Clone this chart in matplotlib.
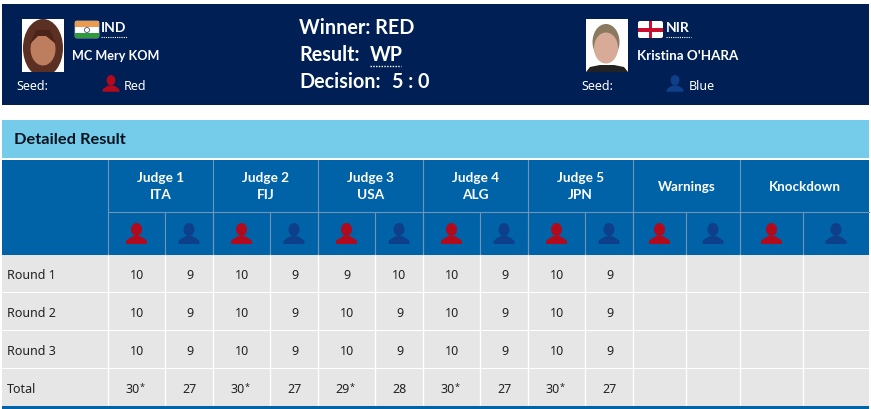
import matplotlib
matplotlib.use("Agg")
import matplotlib.pyplot as plt
from matplotlib.patches import Rectangle, Ellipse, FancyBboxPatch, Polygon

plt.rcParams['font.family'] = ['Noto Sans', 'DejaVu Sans']

# ---- data ----
red_name = "MC Mery KOM"; red_code = "IND"
blue_name = "Kristina O'HARA"; blue_code = "NIR"
judges = ["Judge 1\nITA", "Judge 2\nFIJ", "Judge 3\nUSA", "Judge 4\nALG", "Judge 5\nJPN"]
extras = ["Warnings", "Knockdown"]
rounds = ["Round 1", "Round 2", "Round 3", "Total"]
round1 = ["10", "9", "10", "9", "9", "10", "10", "9", "10", "9"]
round2 = ["10", "9", "10", "9", "10", "9", "10", "9", "10", "9"]
round3 = ["10", "9", "10", "9", "10", "9", "10", "9", "10", "9"]
totals = ["30*", "27", "30*", "27", "29*", "28", "30*", "27", "30*", "27"]

# ---- layout ----
NAVY = "#002055"; SKY = "#74cbea"; BLUE = "#0063a8"; GREY = "#e6e6e6"
ICON_RED = "#b00a1c"; ICON_BLUE = "#0e3f8a"; LINE = "#6f94b4"
main_edges = [108, 213, 318, 423, 528, 633, 740, 869]
sub_edges = [108, 165, 213, 270, 318, 375, 423, 480, 528, 585, 633, 686, 740, 803, 869]
row_edges = [255, 293, 331, 369, 407]
LEFT, RIGHT = 2, 869

fig = plt.figure(figsize=(8.71, 4.09), dpi=100, facecolor="white")
ax = fig.add_axes([0, 0, 1, 1])
ax.set_xlim(0, 871); ax.set_ylim(409, 0); ax.axis("off")


def rect(x0, y0, x1, y1, color, z=1):
    ax.add_patch(Rectangle((x0, y0), x1 - x0, y1 - y0, fc=color, ec="none", zorder=z))


def txt(x, y, s, size=9, color="white", ha="center", bold=False, **kw):
    if bold:
        kw.update(family="Lato", weight="bold")
    ax.text(x, y + 1.3, s, fontsize=size, color=color, ha=ha, va="center", zorder=6, **kw)


def person(cx, top, color, scale=1.0):
    ax.add_patch(Ellipse((cx, top + 6.5 * scale), 11 * scale, 13 * scale, fc=color, ec="none", zorder=5))
    w = 10.5 * scale
    pts = [(cx - w, top + 21 * scale), (cx - w, top + 18 * scale), (cx - w + 3 * scale, top + 15.5 * scale),
           (cx - 3 * scale, top + 13 * scale), (cx + 3 * scale, top + 13 * scale),
           (cx + w - 3 * scale, top + 15.5 * scale), (cx + w, top + 18 * scale), (cx + w, top + 21 * scale)]
    ax.add_patch(Polygon(pts, closed=True, fc=color, ec="none", zorder=5))


# top banner
rect(LEFT, 4, RIGHT, 105, NAVY)

# red boxer photo
rect(22, 19, 64, 72, "white", 2)
ax.add_patch(Ellipse((43, 48), 40, 58, fc="#5b2f22", ec="none", zorder=3))
rect(22, 72, 64, 80, NAVY, 3.5)
ax.add_patch(Ellipse((43, 49), 25, 33, fc="#bd7d5f", ec="none", zorder=4))
ax.add_patch(Polygon([(30, 44), (36, 30), (50, 30), (56, 44), (46, 36), (38, 36)], fc="#4a2419", ec="none", zorder=4.5))
# India flag
ax.add_patch(FancyBboxPatch((75, 21), 24, 17, boxstyle="round,pad=0,rounding_size=2", fc="white", ec="#bcd", lw=.5, zorder=3))
rect(75, 21, 99, 27, "#ee9a4d", 4); rect(75, 33, 99, 38, "#2f9a3c", 4)
ax.add_patch(Ellipse((87, 30), 5, 5, fc="none", ec="#3a4a88", lw=.6, zorder=5))
txt(101, 27, red_code, 10, ha="left", bold=True)
ax.plot([101, 127], [36.5, 36.5], color="white", lw=.8, ls=(0, (1, 1)), zorder=6)
txt(72, 54.5, red_name, 9.1, ha="left", bold=True)
txt(16, 85.5, "Seed:", 9, ha="left")
person(111, 75, ICON_RED, .8)
txt(124, 85.5, "Red", 9, ha="left")

# centre text
txt(299, 27, "Winner: RED", 14.2, ha="left", bold=True)
txt(299, 54, "Result:", 14.2, ha="left", bold=True)
txt(370, 54, "WP", 14.2, ha="left", bold=True)
ax.plot([370, 401], [65.5, 65.5], color="white", lw=1, ls=(0, (1, 1)), zorder=6)
txt(299, 81, "Decision:", 14.2, ha="left", bold=True)
txt(392, 81, "5 : 0", 14.2, ha="left", bold=True)

# blue boxer photo
rect(586, 19, 628, 72, "white", 2)
ax.add_patch(Ellipse((606, 42), 27, 36, fc="#8a7a60", ec="none", zorder=3))
ax.add_patch(Ellipse((606, 48), 24, 31, fc="#d8ab98", ec="none", zorder=4))
ax.add_patch(Polygon([(586, 72), (590, 67), (600, 65), (614, 65), (624, 67), (628, 72)], fc="#222222", ec="none", zorder=4.5))
# NIR flag
ax.add_patch(FancyBboxPatch((638, 21), 25, 17, boxstyle="round,pad=0,rounding_size=2", fc="white", ec="none", zorder=3))
rect(638, 27.5, 663, 31.5, "#c8102e", 4); rect(649, 21, 652, 38, "#c8102e", 4)
txt(666, 27, blue_code, 10, ha="left", bold=True)
ax.plot([666, 691], [36.5, 36.5], color="white", lw=.8, ls=(0, (1, 1)), zorder=6)
txt(637, 54.5, blue_name, 9.6, ha="left", bold=True)
txt(581, 85.5, "Seed:", 9, ha="left")
person(675, 75, ICON_BLUE, .8)
txt(689, 85.5, "Blue", 9, ha="left")

# Detailed result band
rect(LEFT, 120, RIGHT, 158, SKY)
txt(14, 138.5, "Detailed Result", 11.8, color="#06121e", ha="left", bold=True)

# table header
rect(LEFT, 160, RIGHT, 254.5, BLUE)
for x in main_edges[:-1]:
    ax.plot([x, x], [160, 254.5], color=LINE, lw=.8, zorder=2)
ax.plot([108, RIGHT], [212, 212], color=LINE, lw=.8, zorder=2)
for x in sub_edges[1:-1]:
    ax.plot([x, x], [212, 254.5], color=LINE, lw=.8, zorder=2)

for i, label in enumerate(judges):
    txt((main_edges[i] + main_edges[i + 1]) / 2, 185, label, 9.8, bold=True, linespacing=1.5)
for i, label in enumerate(extras):
    txt((main_edges[5 + i] + main_edges[6 + i]) / 2, 185.5, label, 9.6, bold=True)
for i in range(len(sub_edges) - 1):
    cx = (sub_edges[i] + sub_edges[i + 1]) / 2
    person(cx, 223, ICON_RED if i % 2 == 0 else ICON_BLUE)

# table body
rows = [round1, round2, round3, totals]
for r, (name, vals) in enumerate(zip(rounds, rows)):
    y0, y1 = row_edges[r], row_edges[r + 1]
    rect(LEFT, y0, RIGHT, y1 - 1, GREY)
    ym = (y0 + y1) / 2
    txt(7, ym, name, 9, color="#222222", ha="left")
    for i, v in enumerate(vals):
        cx = (sub_edges[i] + sub_edges[i + 1]) / 2 + .5
        if v.endswith("*"):
            txt(cx + 2.5, ym, v[:-1], 9, color="#222222", ha="right")
            txt(cx + 2.5, ym - 2, "*", 6.5, color="#222222", ha="left")
        else:
            txt(cx, ym, v, 9, color="#222222")
for x in sub_edges[:-1]:
    ax.plot([x, x], [255, 406], color="white", lw=1, zorder=2)
rect(LEFT, 406, RIGHT, 409, BLUE, 3)

fig.savefig("out.png", dpi=100, facecolor="white")
